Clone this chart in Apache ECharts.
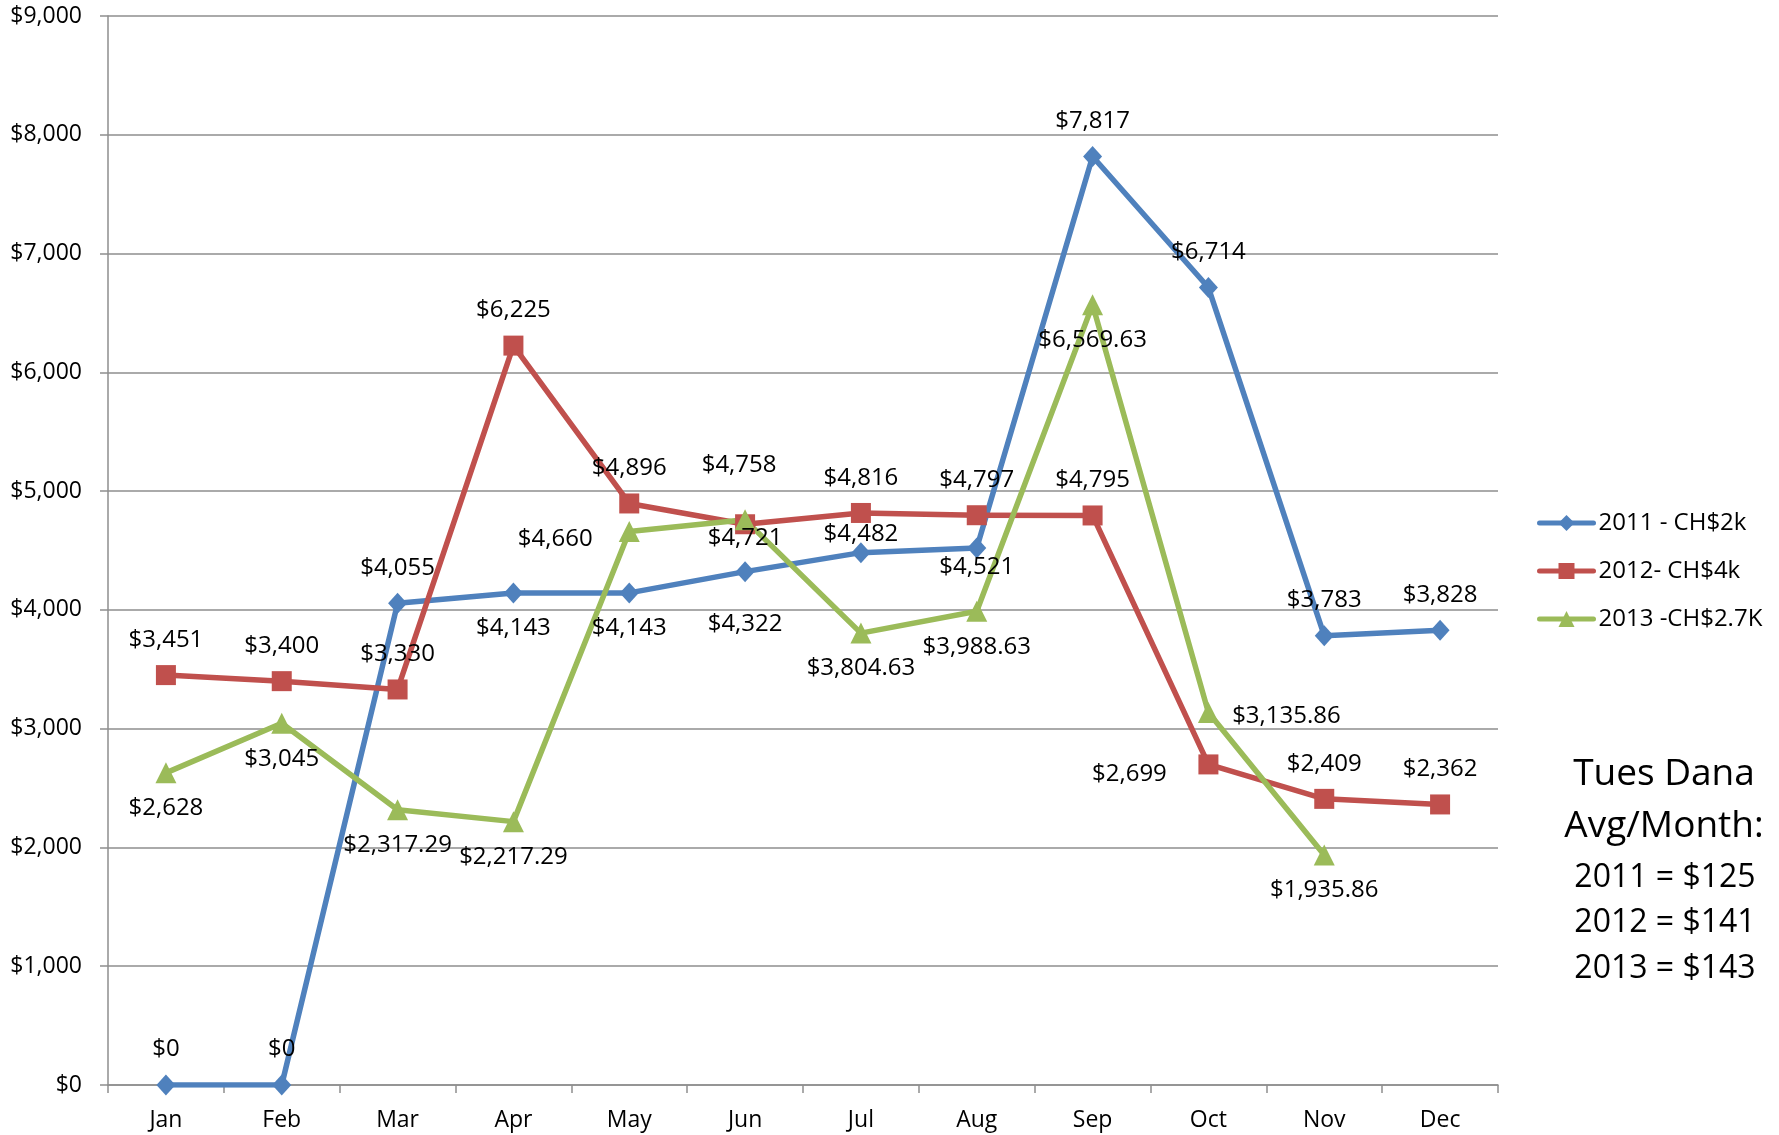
<!DOCTYPE html>
<html>
<head>
<meta charset="utf-8">
<script src="https://cdn.jsdelivr.net/npm/echarts@6/dist/echarts.min.js"></script>
<style>
  html, body { margin: 0; padding: 0; background: #fff; }
  #chart { width: 1779px; height: 1135px; }
</style>
</head>
<body>
<div id="chart"></div>
<script>
// monthly totals
const months = ['Jan', 'Feb', 'Mar', 'Apr', 'May', 'Jun', 'Jul', 'Aug', 'Sep', 'Oct', 'Nov', 'Dec'];
const seriesNames = ['2011 - CH$2k', '2012- CH$4k', '2013 -CH$2.7K'];
const sales2011 = [0, 0, 4055, 4143, 4143, 4322, 4482, 4521, 7817, 6714, 3783, 3828];
const sales2012 = [3451, 3400, 3330, 6225, 4896, 4721, 4816, 4797, 4795, 2699, 2409, 2362];
const sales2013 = [2628, 3045, 2317.29, 2217.29, 4660, 4758, 3804.63, 3988.63, 6569.63, 3135.86, 1935.86, null];
const yMin = 0, yMax = 9000, yStep = 1000;
const noteTitle = ['Tues Dana', 'Avg/Month:'];
const noteLines = ['2011 = $125', '2012 = $141', '2013 = $143'];

// where each data label sits (t = above, b = below, l/r = beside)
const place2011 = ['t', 't', 't', 'b', 'b', 'b', 't', 'b', 't', 't', 't', 't'];
const place2012 = ['t', 't', 't', 't', 't', 'b', 't', 't', 't', 'l', 't', 't'];
const place2013 = ['b', 'b', 'b', 'b', 'l', 't', 'b', 'b', 'b', 'r', 'b', null];
// small nudges where the labels were moved to avoid overlaps
const nudge2011 = { 5: [0, 17], 6: [0, 17], 7: [0, -16] };
const nudge2012 = { 5: [0, -21], 9: [-79, 10] };
const nudge2013 = { 4: [-74, 8], 5: [-6, -19], 9: [78, 4] };

const FONT = '"Open Sans", "Liberation Sans", sans-serif';
const colors = ['#4F81BD', '#C0504D', '#9BBB59'];

function money(v) {
  const isInt = Math.round(v) === v;
  return '$' + v.toLocaleString('en-US', {
    minimumFractionDigits: isInt ? 0 : 2,
    maximumFractionDigits: isInt ? 0 : 2
  });
}

function buildData(values, places, nudges) {
  return values.map((v, i) => {
    if (v === null) return null;
    const p = places[i];
    const label = { show: true };
    if (p === 't' || p === 'b') {
      label.position = p === 't' ? 'top' : 'bottom';
      label.distance = 13;
      if (nudges[i]) label.offset = nudges[i];
    } else {
      label.position = 'inside';
      label.offset = nudges[i] || [0, 0];
    }
    return { value: v, label: label };
  });
}

function makeSeries(name, values, places, nudges, symbol, size, color) {
  return {
    name: name,
    type: 'line',
    data: buildData(values, places, nudges),
    symbol: symbol,
    symbolSize: size,
    showAllSymbol: true,
    lineStyle: { width: 5.5, color: color, cap: 'round', join: 'round' },
    itemStyle: { color: color },
    label: {
      show: true,
      color: '#000',
      fontFamily: FONT,
      fontSize: 24,
      formatter: p => money(p.value)
    },
    emphasis: { disabled: true }
  };
}

const chart = echarts.init(document.getElementById('chart'));

const option = {
  animation: false,
  backgroundColor: '#fff',
  grid: { left: 108, right: 281, top: 16, bottom: 50, containLabel: false },
  xAxis: {
    type: 'category',
    data: months,
    boundaryGap: true,
    axisLine: { lineStyle: { color: '#8E8E8E', width: 1.5 } },
    axisTick: { show: true, length: 8, alignWithLabel: false, lineStyle: { color: '#8E8E8E', width: 1.5 } },
    axisLabel: { color: '#000', fontFamily: FONT, fontSize: 23, margin: 24 },
    splitLine: { show: false }
  },
  yAxis: {
    type: 'value',
    min: yMin,
    max: yMax,
    interval: yStep,
    axisLine: { show: true, lineStyle: { color: '#8E8E8E', width: 1.5 } },
    axisTick: { show: true, length: 8, lineStyle: { color: '#8E8E8E', width: 1.5 } },
    axisLabel: { color: '#000', fontFamily: FONT, fontSize: 23, margin: 26, formatter: v => money(v) },
    splitLine: { show: true, lineStyle: { color: '#8E8E8E', width: 1.5 } }
  },
  legend: {
    orient: 'vertical',
    left: 1532,
    top: 506,
    itemWidth: 54,
    itemHeight: 20,
    itemGap: 24,
    lineStyle: { width: 5, cap: 'round' },
    textStyle: { color: '#000', fontFamily: FONT, fontSize: 24 },
    data: seriesNames
  },
  graphic: [
    ...noteTitle.map((t, i) => ({
      type: 'text',
      style: {
        text: t, x: 1664, y: [774, 826][i],
        textAlign: 'center', textVerticalAlign: 'middle',
        fontFamily: FONT, fontSize: 37, fill: '#000'
      }
    })),
    ...noteLines.map((t, i) => ({
      type: 'text',
      style: {
        text: t, x: 1665, y: [878, 923, 969][i],
        textAlign: 'center', textVerticalAlign: 'middle',
        fontFamily: FONT, fontSize: 32, fill: '#000'
      }
    }))
  ],
  series: [
    makeSeries(seriesNames[0], sales2011, place2011, nudge2011, 'diamond', [19, 21], colors[0]),
    makeSeries(seriesNames[1], sales2012, place2012, nudge2012, 'rect', 20, colors[1]),
    makeSeries(seriesNames[2], sales2013, place2013, nudge2013, 'triangle', 21, colors[2])
  ]
};

chart.setOption(option);
</script>
</body>
</html>
